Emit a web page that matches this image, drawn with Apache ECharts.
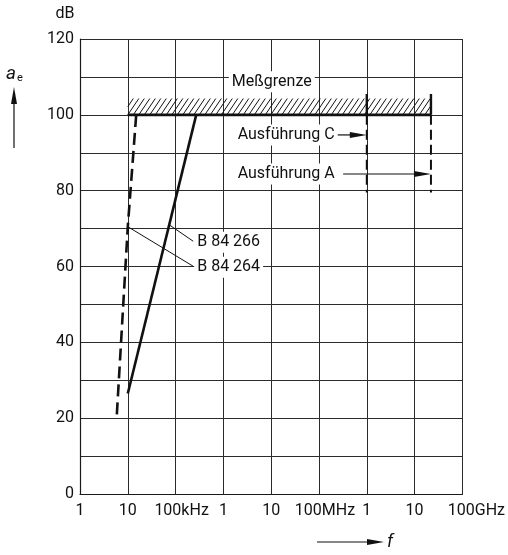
<!DOCTYPE html>
<html>
<head>
<meta charset="utf-8">
<script src="https://cdn.jsdelivr.net/npm/echarts@6/dist/echarts.min.js"></script>
<style>
  html, body { margin: 0; padding: 0; background: #fff; }
  #chart { width: 508px; height: 555px; }
</style>
</head>
<body>
<div id="chart"></div>
<script>
// Frequency decades 1 kHz ... 100 GHz (values in Hz) and their tick texts
const freqTickLabels = ['1', '10', '100kHz', '1', '10', '100MHz', '1', '10', '100GHz'];
const firstDecade = 3;            // 10^3 Hz = 1 kHz
const lastDecade = 11;            // 10^11 Hz = 100 GHz

// Attenuation a_e in dB
const levelMin = 0;
const levelMax = 120;
const levelStep = 10;
const levelLabelStep = 20;

// Screening attenuation curves  [frequency Hz, dB]
const curveB84266 = [[1.0e4, 26.5], [2.7e5, 100]];
const curveB84264 = [[5.9e3, 21], [1.0e4, 70.5], [1.5e4, 100]];

// Measuring limit (Meßgrenze) line and hatched band
const limitLine = [[1.0e4, 100], [2.2e10, 100]];
const limitBandFreq = [1.0e4, 2.2e10];
const limitBandLevel = [100, 104.3];

// Upper frequency limits of the versions C and A
const versionCFreq = 1.0e9;
const versionAFreq = 2.2e10;
const markerTop = 105.5;
const markerBottom = 79.5;
const versionCSolid = [[versionCFreq, markerTop], [versionCFreq, 100]];
const versionCDashed = [[versionCFreq, 100], [versionCFreq, markerBottom]];
const versionASolid = [[versionAFreq, markerTop], [versionAFreq, 100]];
const versionADashed = [[versionAFreq, 100], [versionAFreq, markerBottom]];

// Annotation texts with their anchors [frequency Hz, dB]
const noteTexts = ['Meßgrenze', 'Ausführung C', 'Ausführung A', 'B 84 266', 'B 84 264'];
const noteAnchors = [[1.3e6, 108.7], [1.72e6, 94.7], [1.72e6, 84.4], [2.45e5, 66.4], [2.45e5, 59.8]];
// Arrows: [start Hz, tip Hz, dB]
const arrowC = [2.2e8, versionCFreq, 94.7];
const arrowA = [3.2e8, versionAFreq, 84.4];
// Leader line start points on the curves [Hz, dB]
const leader266 = [7.35e4, 71];
const leader264 = [1.0e4, 70.5];

const FONT = 'Roboto, "Liberation Sans", sans-serif';
const INK = '#111';

const chart = echarts.init(document.getElementById('chart'), null, { renderer: 'canvas' });

function renderNotes(params, api) {
  const children = [];
  // hatched band above the limit line
  const p0 = api.coord([limitBandFreq[0], limitBandLevel[0]]);
  const p1 = api.coord([limitBandFreq[1], limitBandLevel[1]]);
  const x0 = p0[0], x1 = p1[0], yb = p0[1], yt = p1[1];
  const h = yb - yt;
  const slant = 11, gap = 5.5;
  for (let s = x0 - slant; s < x1; s += gap) {
    let t0 = 0, t1 = 1;
    if (s < x0) t0 = (x0 - s) / slant;
    if (s + slant > x1) t1 = (x1 - s) / slant;
    if (t1 <= t0) continue;
    children.push({
      type: 'line',
      shape: { x1: s + slant * t0, y1: yb - h * t0, x2: s + slant * t1, y2: yb - h * t1 },
      style: { stroke: INK, lineWidth: 1 }
    });
  }
  // text labels on white boxes
  noteTexts.forEach(function (txt, i) {
    const p = api.coord(noteAnchors[i]);
    children.push({
      type: 'text',
      x: p[0], y: p[1],
      style: {
        text: txt, fill: INK, font: '16px ' + FONT,
        align: 'left', verticalAlign: 'middle',
        backgroundColor: '#fff', padding: [3, 3, 2, 3]
      },
      z2: 5
    });
  });
  // arrows pointing at the version limits
  [arrowC, arrowA].forEach(function (a) {
    const s = api.coord([a[0], a[2]]);
    const t = api.coord([a[1], a[2]]);
    const head = 17, half = 3;
    children.push({
      type: 'line',
      shape: { x1: s[0], y1: s[1], x2: t[0] - head + 2, y2: t[1] },
      style: { stroke: INK, lineWidth: 1.2 }
    });
    children.push({
      type: 'polygon',
      shape: { points: [[t[0], t[1]], [t[0] - head, t[1] - half], [t[0] - head, t[1] + half]] },
      style: { fill: INK }
    });
  });
  // leader lines from the curves to their names
  [[leader266, noteAnchors[3]], [leader264, noteAnchors[4]]].forEach(function (pair) {
    const a = api.coord(pair[0]);
    const b = api.coord(pair[1]);
    children.push({
      type: 'line',
      shape: { x1: a[0], y1: a[1], x2: b[0] - 1, y2: b[1] - 1 },
      style: { stroke: INK, lineWidth: 1 }
    });
  });
  return { type: 'group', children: children };
}

function lineSeries(name, data, width, dash) {
  return {
    name: name, type: 'line', data: data, symbol: 'none', z: 4,
    animation: false,
    lineStyle: { color: INK, width: width, type: dash || 'solid', cap: 'butt' }
  };
}

const option = {
  animation: false,
  backgroundColor: '#fff',
  grid: { left: 80, right: 43, top: 39, bottom: 61 },
  xAxis: {
    type: 'log', logBase: 10,
    min: Math.pow(10, firstDecade), max: Math.pow(10, lastDecade),
    axisLine: { show: true, lineStyle: { color: '#1a1a1a', width: 1.2 } },
    axisTick: { show: false },
    splitLine: { show: true, lineStyle: { color: '#2b2b2b', width: 1 } },
    axisLabel: {
      margin: 9, interval: 0, hideOverlap: false,
      color: INK, fontSize: 16, fontFamily: FONT,
      formatter: function (v) {
        const i = Math.round(Math.log10(v)) - firstDecade;
        const t = freqTickLabels[i] || '';
        if (i === freqTickLabels.length - 1) return '{g|' + t + '}';
        if (t.length > 3) return '{k|' + t + '}';
        return t;
      },
      rich: {
        k: { padding: [0, 0, 0, 12], fontSize: 16, fontFamily: FONT, color: INK },
        g: { padding: [0, 0, 0, 28], fontSize: 16, fontFamily: FONT, color: INK }
      }
    }
  },
  yAxis: {
    type: 'value', min: levelMin, max: levelMax, interval: levelStep,
    axisLine: { show: true, lineStyle: { color: '#1a1a1a', width: 1.2 } },
    axisTick: { show: false },
    splitLine: { show: true, lineStyle: { color: '#2b2b2b', width: 1 } },
    axisLabel: {
      margin: 6, color: INK, fontSize: 16, fontFamily: FONT,
      formatter: function (v) { return v % levelLabelStep === 0 ? String(v) : ''; }
    }
  },
  graphic: [
    { type: 'text', x: 65, y: 14, style: { text: 'dB', fill: INK, font: '16px ' + FONT, align: 'center', verticalAlign: 'middle' } },
    { type: 'text', x: 6, y: 74, style: {
        text: '{a|a}{e|e}', fill: INK, align: 'left', verticalAlign: 'middle',
        rich: {
          a: { font: 'italic 19px ' + FONT, fill: INK },
          e: { font: '11px ' + FONT, fill: INK, padding: [8, 0, 0, 1] }
        } } },
    { type: 'line', shape: { x1: 14, y1: 148, x2: 14, y2: 100 }, style: { stroke: INK, lineWidth: 1.2 } },
    { type: 'polygon', shape: { points: [[14, 87], [11, 104], [17, 104]] }, style: { fill: INK } },
    { type: 'line', shape: { x1: 317, y1: 542, x2: 370, y2: 542 }, style: { stroke: INK, lineWidth: 1.2 } },
    { type: 'polygon', shape: { points: [[384, 542], [367, 539], [367, 545]] }, style: { fill: INK } },
    { type: 'text', x: 387, y: 542, style: { text: 'f', fill: INK, font: 'italic 18px ' + FONT, align: 'left', verticalAlign: 'middle' } }
  ],
  series: [
    {
      type: 'custom', coordinateSystem: 'cartesian2d', z: 3,
      animation: false, silent: true,
      data: [[limitBandFreq[0], limitBandLevel[0]]],
      renderItem: renderNotes
    },
    lineSeries('B 84 266', curveB84266, 2.6),
    lineSeries('B 84 264', curveB84264, 2.6, [12, 6]),
    lineSeries('Meßgrenze', limitLine, 2.8),
    lineSeries('Ausführung C', versionCSolid, 2.4),
    lineSeries('Ausführung C', versionCDashed, 2, [10, 5]),
    lineSeries('Ausführung A', versionASolid, 2.4),
    lineSeries('Ausführung A', versionADashed, 2, [10, 5])
  ]
};

chart.setOption(option);
</script>
</body>
</html>
